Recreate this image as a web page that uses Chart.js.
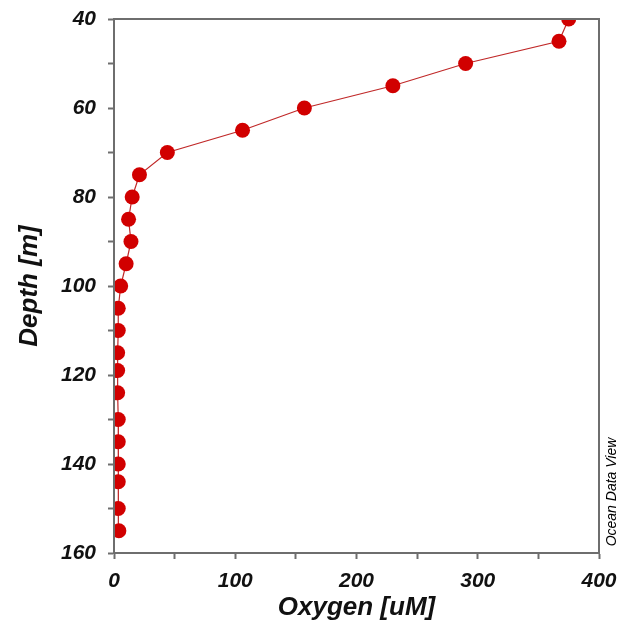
<!DOCTYPE html>
<html lang="en">
<head>
    <meta charset="UTF-8">
    <title>Oxygen profile</title>
    <script src="https://cdn.jsdelivr.net/npm/chart.js"></script>
    <style>
        body { margin: 0; background: #fff; }
    </style>
</head>
<body>
    <canvas id="myChart" width="622" height="625"></canvas>

    <script>
        // station profile: depth [m] and dissolved oxygen [uM]
        const depth  = [40, 45, 50, 55, 60, 65, 70, 75, 80, 85, 90, 95, 100,
                        105, 110, 115, 119, 124, 130, 135, 140, 144, 150, 155];
        const oxygen = [375, 367, 290, 230, 157, 106, 44, 21, 15, 12, 14, 10, 5.5,
                        3.5, 3.5, 3, 3, 3, 3.5, 3.5, 3.5, 3.5, 3.5, 4];
        const xTicks = [0, 100, 200, 300, 400];
        const yTicks = [40, 60, 80, 100, 120, 140, 160];

        const axisGrey = '#6e6e6e';
        const tickFont = { family: 'Liberation Sans, Arial', size: 21, weight: 'bold', style: 'italic' };
        const titleFont = { family: 'Liberation Sans, Arial', size: 26, weight: 'bold', style: 'italic' };

        // no extra room for overhanging tick labels, layout padding decides the plot box
        function noOverhang(scale) {
            scale.paddingLeft = 0;
            scale.paddingRight = 0;
            scale.paddingTop = 0;
            scale.paddingBottom = 0;
        }

        // frame around the plot plus the ODV credit on the right
        const framePlugin = {
            id: 'frame',
            afterDraw(chart) {
                const { ctx, chartArea: a } = chart;
                ctx.save();
                ctx.strokeStyle = axisGrey;
                ctx.lineWidth = 2;
                ctx.strokeRect(a.left, a.top, a.right - a.left, a.bottom - a.top);
                ctx.translate(612, 492);
                ctx.rotate(-Math.PI / 2);
                ctx.fillStyle = '#000';
                ctx.font = 'italic 14px "Liberation Sans", Arial';
                ctx.textAlign = 'center';
                ctx.textBaseline = 'middle';
                ctx.fillText('Ocean Data View', 0, 0);
                ctx.restore();
            }
        };

        const points = depth.map((d, i) => ({ x: oxygen[i], y: d }));

        const ctx = document.getElementById('myChart').getContext('2d');
        const myChart = new Chart(ctx, {
            type: 'scatter',
            data: {
                datasets: [{
                    data: points,
                    showLine: true,
                    borderColor: '#c02828',
                    borderWidth: 1.2,
                    pointRadius: 7.5,
                    pointBackgroundColor: '#d10000',
                    pointBorderColor: '#d10000',
                    pointBorderWidth: 0
                }]
            },
            options: {
                responsive: false,
                animation: false,
                layout: { padding: { top: 19, right: 23, left: 0, bottom: 0 } },
                plugins: {
                    legend: { display: false },
                    tooltip: { enabled: false }
                },
                scales: {
                    x: {
                        type: 'linear',
                        position: 'bottom',
                        min: 0,
                        max: 400,
                        afterFit(scale) { scale.height = 72; noOverhang(scale); },
                        afterBuildTicks(scale) {
                            scale.ticks = [];
                            for (let v = 0; v <= 400; v += 50) scale.ticks.push({ value: v });
                        },
                        grid: { drawOnChartArea: false, tickLength: 6, tickColor: axisGrey, tickWidth: 2 },
                        border: { color: axisGrey, width: 2 },
                        ticks: {
                            color: '#111',
                            font: tickFont,
                            padding: 10,
                            maxRotation: 0,
                            callback: v => xTicks.includes(v) ? v : ''
                        },
                        title: {
                            display: true,
                            text: 'Oxygen [uM]',
                            color: '#111',
                            font: titleFont,
                            padding: { top: 0, bottom: 2 }
                        }
                    },
                    y: {
                        type: 'linear',
                        position: 'left',
                        reverse: true,
                        min: 40,
                        max: 160,
                        afterFit(scale) { scale.width = 114; noOverhang(scale); },
                        afterBuildTicks(scale) {
                            scale.ticks = [];
                            for (let v = 40; v <= 160; v += 10) scale.ticks.push({ value: v });
                        },
                        grid: { drawOnChartArea: false, tickLength: 6, tickColor: axisGrey, tickWidth: 2 },
                        border: { color: axisGrey, width: 2 },
                        ticks: {
                            color: '#111',
                            font: tickFont,
                            padding: 12,
                            callback: v => yTicks.includes(v) ? v : ''
                        },
                        title: {
                            display: true,
                            text: 'Depth [m]',
                            color: '#111',
                            font: titleFont,
                            padding: { top: 14, bottom: 0 }
                        }
                    }
                }
            },
            plugins: [framePlugin]
        });
    </script>
</body>
</html>
